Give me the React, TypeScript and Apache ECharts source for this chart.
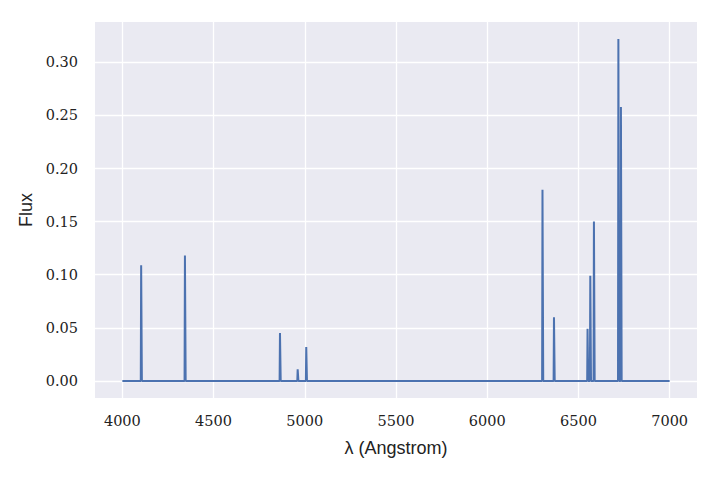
import React, { useEffect, useRef } from "react";
import * as echarts from "echarts";

// Emission lines (observed wavelength, Angstrom) and peak flux
const lineWavelengths = [4104, 4344, 4865, 4962, 5009, 6304, 6367, 6551, 6566, 6586, 6720, 6734];
const linePeaks = [0.109, 0.118, 0.045, 0.011, 0.032, 0.18, 0.06, 0.049, 0.099, 0.15, 0.322, 0.258];
const spectrumStart = 4000;
const spectrumEnd = 7000;
const lineHalfWidth = 3;
const xTicks = [4000, 4500, 5000, 5500, 6000, 6500, 7000];
const yTicks = [0, 0.05, 0.1, 0.15, 0.2, 0.25, 0.3];

function buildSpectrum(): [number, number][] {
  const pts: [number, number][] = [[spectrumStart, 0]];
  lineWavelengths.forEach((w, i) => {
    pts.push([w - lineHalfWidth, 0]);
    pts.push([w - 1, linePeaks[i]]);
    pts.push([w + 1, linePeaks[i]]);
    pts.push([w + lineHalfWidth, 0]);
  });
  pts.push([spectrumEnd, 0]);
  return pts;
}

export default function App() {
  const ref = useRef<HTMLDivElement>(null);
  useEffect(() => {
    if (!ref.current) return;
    const chart = echarts.init(ref.current, null, { renderer: "svg" });
    const serif = "'DejaVu Serif', serif";
    const sans = "'Liberation Sans', sans-serif";
    chart.setOption({
      animation: false,
      backgroundColor: "#ffffff",
      grid: { left: 95, right: 23, top: 22, bottom: 82, show: true, backgroundColor: "#EAEAF2", borderWidth: 0 },
      xAxis: {
        type: "value",
        min: 3850,
        max: 7150,
        name: "λ (Angstrom)",
        nameLocation: "middle",
        nameGap: 41,
        nameTextStyle: { fontFamily: sans, fontSize: 18, color: "#222" },
        axisLine: { show: false },
        axisTick: { show: false, customValues: xTicks },
        axisLabel: {
          customValues: xTicks,
          fontFamily: serif,
          fontSize: 14.5,
          color: "#222",
          margin: 15,
          formatter: (v: number) => String(Math.round(v)),
        },
        splitLine: { show: true, lineStyle: { color: "#ffffff", width: 1.3 } },
      },
      yAxis: {
        type: "value",
        min: -0.0161,
        max: 0.338,
        name: "Flux",
        nameLocation: "middle",
        nameGap: 60,
        nameTextStyle: { fontFamily: sans, fontSize: 18, color: "#222" },
        axisLine: { show: false },
        axisTick: { show: false, customValues: yTicks },
        axisLabel: {
          customValues: yTicks,
          fontFamily: serif,
          fontSize: 14.5,
          color: "#222",
          margin: 17,
          formatter: (v: number) => v.toFixed(2),
        },
        splitLine: { show: true, lineStyle: { color: "#ffffff", width: 1.3 } },
      },
      series: [
        {
          type: "line",
          data: buildSpectrum(),
          showSymbol: false,
          lineStyle: { color: "#4C72B0", width: 2 },
          silent: true,
        },
      ],
    });
    return () => chart.dispose();
  }, []);
  return <div ref={ref} style={{ width: 720, height: 480, position: "absolute", left: 0, top: 0 }} />;
}
